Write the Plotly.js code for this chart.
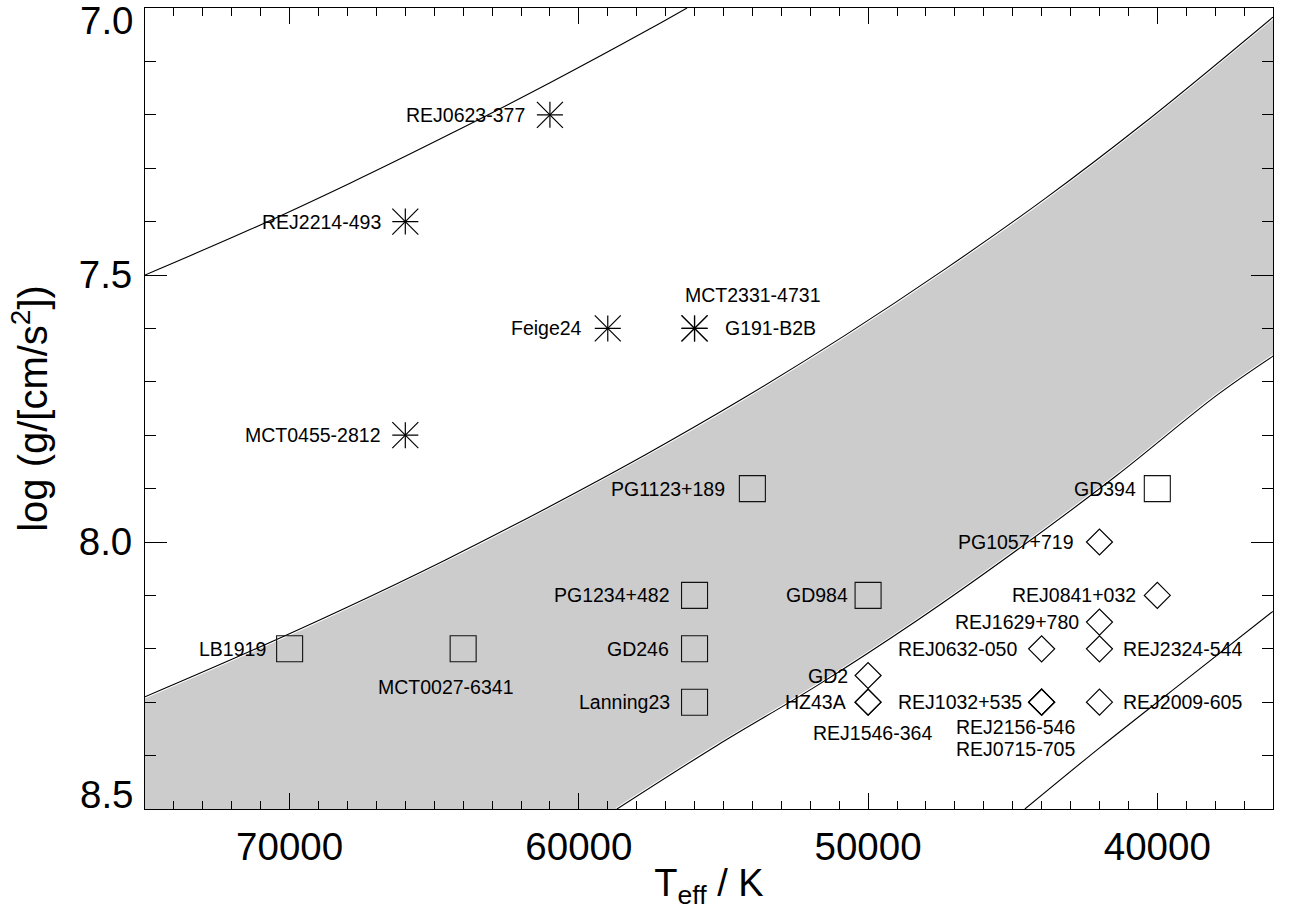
<!DOCTYPE html>
<html>
<head>
<meta charset="utf-8">
<script src="https://cdn.plot.ly/plotly-3.0.1.min.js"></script>
<style>
  html, body { margin: 0; padding: 0; background: #fff; }
  #chart { width: 1295px; height: 918px; }
</style>
</head>
<body>
<div id="chart"></div>
<script>
// ---------------- DATA ----------------
// asterisks
const starNames = ['REJ0623-377', 'REJ2214-493', 'Feige24', 'G191-B2B', 'MCT2331-4731', 'MCT0455-2812'];
const starTeff  = [61000, 66000, 59000, 56000, 56000, 66000];
const starLogg  = [7.2, 7.4, 7.6, 7.6, 7.6, 7.8];

// squares
const sqNames = ['PG1123+189', 'GD394', 'PG1234+482', 'GD984', 'GD246', 'LB1919', 'MCT0027-6341', 'Lanning23'];
const sqTeff  = [54000, 40000, 56000, 50000, 56000, 70000, 64000, 56000];
const sqLogg  = [7.9, 7.9, 8.1, 8.1, 8.2, 8.2, 8.2, 8.3];

// diamonds
const dmNames = ['PG1057+719', 'REJ0841+032', 'REJ1629+780', 'REJ0632-050', 'REJ2324-544', 'GD2', 'HZ43A',
                 'REJ1546-364', 'REJ1032+535', 'REJ2156-546', 'REJ0715-705', 'REJ2009-605'];
const dmTeff  = [42000, 40000, 42000, 44000, 42000, 50000, 50000, 50000, 44000, 44000, 44000, 42000];
const dmLogg  = [8.0, 8.1, 8.15, 8.2, 8.2, 8.25, 8.3, 8.3, 8.3, 8.3, 8.3, 8.3];

// curves (Teff, log g)
const topCurveTeff = [75000, 71370, 67912, 64455, 60998, 57540, 56261];
const topCurveLogg = [7.500, 7.415, 7.328, 7.236, 7.140, 7.039, 7.000];

const bandUpperTeff = [75000, 71543, 68085, 64628, 61170, 57713, 54256, 50798, 47341, 43883, 40426, 36000];
const bandUpperLogg = [8.290, 8.209, 8.124, 8.034, 7.938, 7.837, 7.729, 7.613, 7.489, 7.357, 7.214, 7.017];

const bandLowerTeff = [58681, 55224, 51766, 48309, 44851, 41394, 37937, 36000];
const bandLowerLogg = [8.500, 8.381, 8.269, 8.147, 8.015, 7.875, 7.725, 7.652];

const lowCurveTeff = [44578, 41986, 38874, 36006];
const lowCurveLogg = [8.500, 8.385, 8.252, 8.130];

// axis ranges and ticks
const tRange = [75000, 36000];
const gRange = [8.5, 7.0];
const tTicks = [70000, 60000, 50000, 40000];
const gTicks = [7.0, 7.5, 8.0, 8.5];

// ---------------- LABEL PLACEMENT (style) ----------------
// [xanchor, xshift(px), yshift(px)]
const labelPlace = {
  'REJ0623-377': ['right', -23, 0],
  'REJ2214-493': ['right', -22, 0],
  'Feige24': ['right', -24, 0],
  'G191-B2B': ['left', 28, 0],
  'MCT2331-4731': ['left', -12, 33],
  'MCT0455-2812': ['right', -22, 0],
  'PG1123+189': ['right', -25, 0],
  'GD394': ['right', -19, 0],
  'PG1234+482': ['right', -24, 0],
  'GD984': ['right', -18, 0],
  'GD246': ['right', -24, 0],
  'LB1919': ['right', -22, 0],
  'MCT0027-6341': ['center', -17, -38],
  'Lanning23': ['right', -23, 0],
  'PG1057+719': ['right', -24, 0],
  'REJ0841+032': ['right', -19, 0],
  'REJ1629+780': ['right', -18, 0],
  'REJ0632-050': ['right', -23, 0],
  'REJ2324-544': ['left', 22, 0],
  'GD2': ['right', -18, 0],
  'HZ43A': ['right', -20, 0],
  'REJ1546-364': ['center', 4, -31],
  'REJ1032+535': ['right', -18, 0],
  'REJ2156-546': ['center', -26, -25],
  'REJ0715-705': ['center', -26, -47],
  'REJ2009-605': ['left', 22, 0]
};

const FONT = 'Liberation Sans, Arial, Helvetica, sans-serif';
const TICKSIZE = 38.5;

// ---------------- TRACES ----------------
const traces = [];

// grey band polygon: upper boundary L->R, down the right edge, lower boundary R->L, bottom-left corner
const polyX = bandUpperTeff.concat(bandLowerTeff.slice().reverse(), [tRange[0]]);
const polyY = bandUpperLogg.concat(bandLowerLogg.slice().reverse(), [gRange[0]]);
traces.push({
  x: polyX, y: polyY, type: 'scatter', mode: 'lines', fill: 'toself',
  fillcolor: '#cccccc', line: { width: 0, color: 'rgba(0,0,0,0)' },
  hoverinfo: 'skip', showlegend: false
});

function curve(xs, ys, halo) {
  if (halo) {
    traces.push({ x: xs, y: ys, type: 'scatter', mode: 'lines',
      line: { color: '#ffffff', width: 3.2, shape: 'spline', smoothing: 1 },
      hoverinfo: 'skip', showlegend: false });
  }
  traces.push({ x: xs, y: ys, type: 'scatter', mode: 'lines',
    line: { color: '#000000', width: 1.1, shape: 'spline', smoothing: 1 },
    hoverinfo: 'skip', showlegend: false });
}
curve(topCurveTeff, topCurveLogg, false);
curve(bandUpperTeff, bandUpperLogg, true);
curve(bandLowerTeff, bandLowerLogg, true);
curve(lowCurveTeff, lowCurveLogg, false);

// asterisks = diagonal cross + upright cross
traces.push({ x: starTeff, y: starLogg, type: 'scatter', mode: 'markers', showlegend: false,
  marker: { symbol: 'x-thin-open', size: 26, color: '#000', line: { color: '#000', width: 1.2 } } });
traces.push({ x: starTeff, y: starLogg, type: 'scatter', mode: 'markers', showlegend: false,
  marker: { symbol: 'cross-thin-open', size: 18.6, color: '#000', line: { color: '#000', width: 1.2 } } });

// squares
traces.push({ x: sqTeff, y: sqLogg, type: 'scatter', mode: 'markers', showlegend: false,
  marker: { symbol: 'square-open', size: 26, color: '#111', line: { color: '#111', width: 1.1 } } });

// diamonds
traces.push({ x: dmTeff, y: dmLogg, type: 'scatter', mode: 'markers', showlegend: false,
  marker: { symbol: 'diamond-open', size: 20, color: '#000', line: { color: '#000', width: 1.2 } } });

// ---------------- LABELS ----------------
const annotations = [];
function addLabels(names, xs, ys) {
  names.forEach((n, i) => {
    const p = labelPlace[n] || ['right', -20, 0];
    annotations.push({
      x: xs[i], y: ys[i], xref: 'x', yref: 'y', text: n, showarrow: false,
      xanchor: p[0], yanchor: 'middle', xshift: p[1], yshift: p[2],
      font: { family: FONT, size: 19.5, color: '#000' }
    });
  });
}
addLabels(starNames, starTeff, starLogg);
addLabels(sqNames, sqTeff, sqLogg);
addLabels(dmNames, dmTeff, dmLogg);

// end-of-axis y tick labels (drawn nudged inside the frame, as in the original)
const innerG = gTicks.filter(v => v !== gRange[0] && v !== gRange[1]);
[gRange[1], gRange[0]].forEach((v, k) => {
  annotations.push({
    x: 0, xref: 'paper', y: v, yref: 'y', text: v.toFixed(1), showarrow: false,
    xanchor: 'right', yanchor: 'middle', valign: 'middle', height: 38, borderpad: 0,
    xshift: -10, yshift: k === 0 ? -12 : 15,
    font: { family: FONT, size: TICKSIZE, color: '#000' }
  });
});

// ---------------- LAYOUT ----------------
const layout = {
  width: 1295, height: 918,
  margin: { l: 145, r: 22, t: 8, b: 109, pad: 0 },
  paper_bgcolor: '#ffffff', plot_bgcolor: '#ffffff',
  showlegend: false,
  font: { family: FONT, color: '#000' },
  xaxis: {
    range: tRange, tickvals: tTicks, tickformat: 'd',
    ticks: 'inside', ticklen: 16, tickwidth: 1, tickcolor: '#000',
    showline: true, linecolor: '#000', linewidth: 1, mirror: 'allticks',
    showgrid: false, zeroline: false,
    tickfont: { family: FONT, size: TICKSIZE, color: '#000' },
    ticklabelstandoff: 4,
    minor: { dtick: 1000, ticks: 'inside', ticklen: 8, tickwidth: 1, tickcolor: '#000', showgrid: false },
    title: { text: 'T<sub>eff</sub> / K', font: { family: FONT, size: 38, color: '#000' }, standoff: 2 }
  },
  yaxis: {
    range: gRange, tickvals: innerG, tickformat: '.1f',
    ticks: 'inside', ticklen: 22, tickwidth: 1, tickcolor: '#000',
    showline: true, linecolor: '#000', linewidth: 1, mirror: 'allticks',
    showgrid: false, zeroline: false,
    tickfont: { family: FONT, size: TICKSIZE, color: '#000' },
    ticklabelstandoff: 4,
    minor: { dtick: 0.1, ticks: 'inside', ticklen: 11, tickwidth: 1, tickcolor: '#000', showgrid: false },
    title: { text: 'log (g/[cm/s<sup>2</sup>])', font: { family: FONT, size: 40, color: '#000' }, standoff: 18 }
  },
  annotations: annotations
};

Plotly.newPlot('chart', traces, layout, { displayModeBar: false, responsive: false });
</script>
</body>
</html>
